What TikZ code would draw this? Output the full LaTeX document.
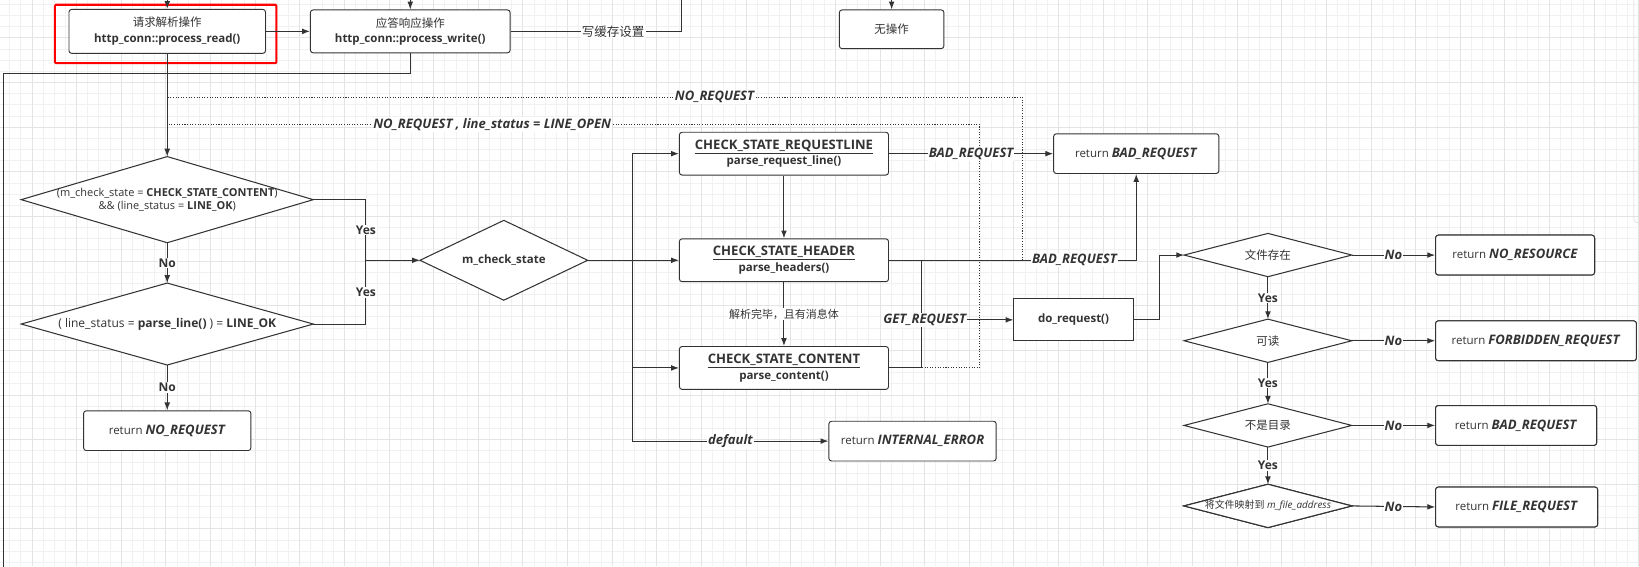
\documentclass[tikz,border=0pt]{standalone}
\usepackage{fontspec}
\setmainfont{Open Sans}
\newfontfamily\cjk{Noto Sans CJK SC}
\usetikzlibrary{arrows.meta,calc}
\definecolor{linec}{HTML}{333333}
\definecolor{textc}{HTML}{333333}
\definecolor{gridminor}{HTML}{F1F1F1}
\definecolor{gridmajor}{HTML}{E4E4E4}
\newcommand\MAINSIZE{\fontsize{11}{15}\selectfont}
\newcommand\CAPSIZE{\fontsize{12.5}{15}\selectfont}
\newcommand\RET[1]{return {\CAPSIZE\textbf{\textit{#1}}}}
\newcommand\DECISION[6][] {
    % Diamond drawn through the anchors of an empty box.
    \node[minimum width=#4, minimum height=#5, inner sep=0pt] (#2) at #3 {};
    \draw[line, fill=white] (#2.west) -- (#2.north) -- (#2.east) -- (#2.south) -- cycle;
    \node[dtext, #1] (#2-t) at (#2) {#6};
}

\begin{document}
\begin{tikzpicture}[x=1pt, y=-1pt
    , every node/.style={text=textc}
    , box/.style={draw=linec, line width=0.9pt, fill=white, rounded corners=2.5pt, align=center, inner sep=0pt, font=\MAINSIZE}
    , sqbox/.style={box, rounded corners=0pt}
    , dtext/.style={align=center, inner sep=0pt, font=\MAINSIZE}
    , line/.style={draw=linec, line width=1pt}
    , arr/.style={line, -{Latex[length=7.5pt, width=5.5pt]}}
    , dotl/.style={draw=linec, line width=0.9pt, dash pattern=on 1pt off 1.5pt}
    , plbl/.style={fill=white, inner sep=1pt, font=\fontsize{10.5}{13}\selectfont}
    , lbl/.style={plbl, font=\fontsize{11.5}{13}\selectfont\bfseries}
    , elbl/.style={plbl, font=\CAPSIZE\bfseries\itshape}
    ]
    \useasboundingbox (0,0) rectangle (1568,541.5);

    % Draw background grid.
    \foreach \i in {0,...,147} \draw[gridminor, line width=0.5pt] ({-1.625+10.675*\i},0) -- ++(0,541.5);
    \foreach \j in {0,...,50} \draw[gridminor, line width=0.5pt] (0,{4.075+10.675*\j}) -- ++(1568,0);
    \foreach \i in {0,...,36} \draw[gridmajor, line width=0.5pt] ({30.4+42.7*\i},0) -- ++(0,541.5);
    \foreach \j in {0,...,11} \draw[gridmajor, line width=0.5pt] (0,{36.1+42.7*\j}) -- ++(1568,0);
    \draw[gray!35, rounded corners=3pt] (1563,-5) -- (1563,213) -- (1580,213);

    % Top row.
    \coordinate (top) at (0,0);
    \node[box, minimum width=188pt, minimum height=42pt] (read) at (160,30)
        {{\cjk 请求解析操作}\\\textbf{http\_conn::process\_read()}};
    \node[box, minimum width=191pt, minimum height=41pt] (write) at (392.5,30)
        {{\cjk 应答响应操作}\\\textbf{http\_conn::process\_write()}};
    \node[box, minimum width=100pt, minimum height=37pt] (noop) at (853,28) {\cjk 无操作};
    \draw[red, line width=2pt, rounded corners=1pt]
        ($(read.north west)+(-13,-4)$) rectangle ($(read.south east)+(10,9)$);

    % Decisions on the left.
    \DECISION[font=\fontsize{10.5}{13}\selectfont]{cond1}{(160,191)}{279pt}{82pt}
        {(m\_check\_state = \textbf{CHECK\_STATE\_CONTENT})\\\&\& (line\_status = \textbf{LINE\_OK})}
    \DECISION[font=\fontsize{11.5}{13}\selectfont]{cond2}{(160,310)}{279pt}{78pt}
        {( line\_status = \textbf{parse\_line()} ) = \textbf{LINE\_OK}}
    \DECISION[font=\MAINSIZE\bfseries]{mcs}{(482,249)}{160pt}{76pt}{m\_check\_state}
    \node[box, minimum width=160pt, minimum height=38pt] (rnoreq) at (160,412) {\RET{NO\_REQUEST}};

    % States.
    \node[box, minimum width=200pt, minimum height=41pt] (rl) at (750,147)
        {{\CAPSIZE\textbf{\underline{CHECK\_STATE\_REQUESTLINE}}}\\\textbf{parse\_request\_line()}};
    \node[box, minimum width=200pt, minimum height=41pt] (hd) at (750,249)
        {{\CAPSIZE\textbf{\underline{CHECK\_STATE\_HEADER}}}\\\textbf{parse\_headers()}};
    \node[box, minimum width=200pt, minimum height=41pt] (ct) at (750,352)
        {{\CAPSIZE\textbf{\underline{CHECK\_STATE\_CONTENT}}}\\\textbf{parse\_content()}};
    \node[box, minimum width=160pt, minimum height=38pt] (ie) at (873,422) {\RET{INTERNAL\_ERROR}};
    \node[box, minimum width=158pt, minimum height=38pt] (rbad) at (1087,147) {\RET{BAD\_REQUEST}};
    \node[sqbox, minimum width=114pt, minimum height=40pt] (doreq) at (1027,306) {\textbf{do\_request()}};

    % File checks on the right.
    \foreach \n/\y/\t in {fe/244/文件存在, rd/326/可读, nd/407/不是目录}
        \DECISION{\n}{(1213,\y)}{160pt}{41pt}{\cjk \t}
    \DECISION[font=\fontsize{9.5}{11}\selectfont]{mp}{(1213,484)}{160pt}{41pt}
        {{\cjk 将文件映射到} \textit{m\_file\_address}}
    \foreach \n/\y/\w/\t in {rnores/244/152/NO\_RESOURCE, rforb/326/192/FORBIDDEN\_REQUEST,
                             rbad2/407/154/BAD\_REQUEST, rfile/485/155/FILE\_REQUEST}
        \node[box, minimum width=\w pt, minimum height=38pt, anchor=west] (\n) at (1373,\y) {\RET{\t}};

    % Dotted loops back to the read side.
    \draw[dotl] (978,249) |- node[elbl, pos=0.68] {NO\_REQUEST} (read.south |- 0,93);
    \draw[dotl] (882,352) -- (937,352) |- node[elbl, pos=0.8] {NO\_REQUEST , line\_status = LINE\_OPEN} (read.south |- 0,119);

    % Connectors.
    \draw[arr] (read.north |- top) -- (read.north);
    \draw[arr] (write.north |- top) -- (write.north);
    \draw[arr] (noop.north |- top) -- (noop.north);
    \draw[arr] (read.east) -- (write.west);
    \coordinate (wtop) at (652,0);
    \draw[line] (write.east) -- node[plbl, pos=0.6, font=\fontsize{12}{13}\selectfont] {\cjk 写缓存设置} (write.east -| wtop) -- (wtop);
    \coordinate (loopl) at (3,70);
    \draw[line] (write.south) |- (loopl) -- (loopl |- 0,545);

    \draw[arr] (read.south) -- (cond1.north);
    \draw[arr] (cond1.south) -- node[lbl] {No} (cond2.north);
    \draw[arr] (cond2.south) -- node[lbl] {No} (rnoreq.north);
    \coordinate (yesj) at (350,249);
    \draw[line] (cond1.east) -| node[lbl, pos=0.75] {Yes} (yesj);
    \draw[line] (cond2.east) -| node[lbl, pos=0.75] {Yes} (yesj);
    \draw[arr] (yesj) -- (mcs.west);

    \coordinate (sw) at (605,249);
    \draw[line] (mcs.east) -- (sw);
    \draw[arr] (sw) |- (rl.west);
    \draw[arr] (sw) -- (hd.west);
    \draw[arr] (sw) |- (ct.west);
    \draw[arr] (sw) |- node[elbl, pos=0.75] {default} (ie.west);

    \draw[arr] (rl.south) -- (hd.north);
    \draw[arr] (hd.south) -- node[plbl] {\cjk 解析完毕，且有消息体} (ct.north);
    \draw[arr] (rl.east) -- node[elbl] {BAD\_REQUEST} (rbad.west);
    \draw[arr] (hd.east) -| node[elbl, pos=0.375] {BAD\_REQUEST} (rbad.south);
    \coordinate (gj) at (882,306);
    \draw[line] (ct.east) -| (gj |- hd.east);
    \draw[arr] (gj) -- node[elbl, pos=0.03] {GET\_REQUEST} (doreq.west);
    \draw[arr] (doreq.east) -- ++(25,0) |- (fe.west);

    \foreach \a/\b in {fe/rd, rd/nd, nd/mp}
        \draw[arr] (\a.south) -- node[lbl] {Yes} (\b.north);
    \foreach \a/\b in {fe/rnores, rd/rforb, nd/rbad2, mp/rfile}
        \draw[arr] (\a.east) -- node[elbl] {No} (\b.west);
\end{tikzpicture}
\end{document}
